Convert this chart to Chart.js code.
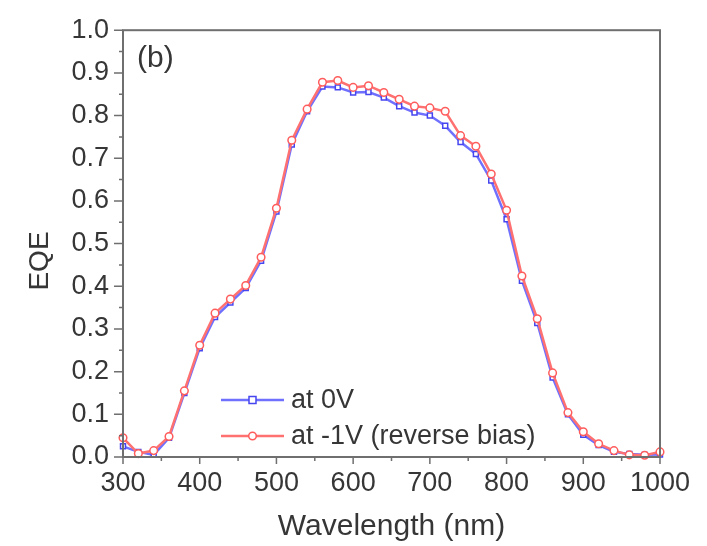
<!doctype html>
<html lang="en">
<head>
<meta charset="utf-8">
<title>EQE</title>
<style>
  * { margin: 0; padding: 0; }
  body { background: #fff; }
  #eqeChart { display: block; }
</style>
</head>
<body>
<canvas id="eqeChart" width="707" height="546"></canvas>
<script src="https://cdn.jsdelivr.net/npm/chart.js"></script>
<script>
// wavelength (nm)
const wavelengths = [300, 320, 340, 360, 380, 400, 420, 440, 460, 480, 500, 520,
  540, 560, 580, 600, 620, 640, 660, 680, 700, 720, 740, 760,
  780, 800, 820, 840, 860, 880, 900, 920, 940, 960, 980, 1000];

// EQE at 0V
const eqe0V = [0.025, 0.012, 0.005, 0.045, 0.150, 0.255, 0.328, 0.362, 0.396, 0.460, 0.575, 0.732,
  0.810, 0.868, 0.866, 0.854, 0.855, 0.842, 0.822, 0.807, 0.800, 0.776, 0.738, 0.710,
  0.648, 0.557, 0.413, 0.314, 0.186, 0.100, 0.052, 0.028, 0.012, 0.007, 0.005, 0.006];

// EQE at -1V (reverse bias)
const eqeRev = [0.045, 0.008, 0.015, 0.048, 0.155, 0.262, 0.337, 0.370, 0.402, 0.468, 0.583, 0.742,
  0.815, 0.878, 0.882, 0.866, 0.870, 0.854, 0.838, 0.822, 0.818, 0.810, 0.753, 0.728,
  0.663, 0.578, 0.424, 0.324, 0.197, 0.104, 0.059, 0.031, 0.015, 0.005, 0.004, 0.012];

const seriesNames = ['at 0V', 'at -1V (reverse bias)'];
const xTicks = [300, 400, 500, 600, 700, 800, 900, 1000];
const yTicks = [0.0, 0.1, 0.2, 0.3, 0.4, 0.5, 0.6, 0.7, 0.8, 0.9, 1.0];

const FONT = '"Liberation Sans", Arial, sans-serif';
const TEXT = '#363636';
const FRAME = '#6f6f6f';

function toPoints(ys) {
  return wavelengths.map((x, i) => ({ x: x, y: ys[i] }));
}

// frame, minor/major ticks, y title, panel label and legend
const decorations = {
  id: 'decorations',
  afterDatasetsDraw(chart) {
    const ctx = chart.ctx;
    const a = chart.chartArea;
    const xs = chart.scales.x, ys = chart.scales.y;
    ctx.save();
    ctx.strokeStyle = FRAME;
    ctx.lineWidth = 2;
    ctx.strokeRect(a.left, a.top, a.right - a.left, a.bottom - a.top);

    ctx.lineWidth = 1.5;
    ctx.beginPath();
    for (let v = 300; v <= 1000; v += 50) {
      const px = xs.getPixelForValue(v);
      const len = (v % 100 === 0) ? 7 : 4;
      ctx.moveTo(px, a.bottom);
      ctx.lineTo(px, a.bottom + len);
    }
    for (let k = 0; k <= 20; k++) {
      const py = ys.getPixelForValue(k * 0.05);
      const len = (k % 2 === 0) ? 9 : 4;
      ctx.moveTo(a.left, py);
      ctx.lineTo(a.left - len, py);
    }
    ctx.stroke();

    ctx.fillStyle = TEXT;
    ctx.textBaseline = 'middle';

    // y axis title
    ctx.save();
    ctx.translate(40, 261);
    ctx.rotate(-Math.PI / 2);
    ctx.textAlign = 'center';
    ctx.font = '28px ' + FONT;
    ctx.fillText('EQE', 0, 0);
    ctx.restore();

    // panel label
    ctx.font = '30px ' + FONT;
    ctx.textAlign = 'left';
    ctx.fillText('(b)', a.left + 14, a.top + 29);

    // legend
    const lx0 = 221, lx1 = 284, tx = 291;
    const rows = [400, 436];
    chart.data.datasets.forEach((ds, i) => {
      const y = rows[i];
      ctx.strokeStyle = ds.borderColor;
      ctx.lineWidth = ds.borderWidth;
      ctx.beginPath();
      ctx.moveTo(lx0, y);
      ctx.lineTo(lx1, y);
      ctx.stroke();
      const mx = (lx0 + lx1) / 2;
      ctx.fillStyle = '#fff';
      ctx.strokeStyle = ds.pointBorderColor;
      ctx.lineWidth = ds.pointBorderWidth;
      ctx.beginPath();
      if (ds.pointStyle === 'rect') {
        ctx.rect(mx - 3.5, y - 3.5, 7, 7);
      } else {
        ctx.arc(mx, y, 3.8, 0, Math.PI * 2);
      }
      ctx.fill();
      ctx.stroke();
      ctx.fillStyle = TEXT;
      ctx.font = '27px ' + FONT;
      ctx.textBaseline = 'middle';
      ctx.fillText(ds.label, tx, y + 1);
    });
    ctx.restore();
  }
};

new Chart(document.getElementById('eqeChart'), {
  type: 'scatter',
  data: {
    datasets: [
      {
        label: seriesNames[0],
        data: toPoints(eqe0V),
        showLine: true,
        borderColor: '#7070ff',
        borderWidth: 2.5,
        pointStyle: 'rect',
        pointRadius: 3.5,
        pointBorderColor: '#4646f0',
        pointBorderWidth: 1.5,
        pointBackgroundColor: '#ffffff',
        order: 1,
        clip: false
      },
      {
        label: seriesNames[1],
        data: toPoints(eqeRev),
        showLine: true,
        borderColor: '#ff7070',
        borderWidth: 2.5,
        pointStyle: 'circle',
        pointRadius: 3.8,
        pointBorderColor: '#ff5c5c',
        pointBorderWidth: 1.5,
        pointBackgroundColor: '#ffffff',
        order: 0,
        clip: false
      }
    ]
  },
  options: {
    responsive: false,
    animation: false,
    layout: { padding: { top: 24, right: 47, left: 0, bottom: 0 } },
    plugins: {
      legend: { display: false },
      tooltip: { enabled: false }
    },
    scales: {
      x: {
        type: 'linear',
        min: 300,
        max: 1000,
        afterFit: s => { s.height = 89; },
        afterBuildTicks: s => { s.ticks = xTicks.map(v => ({ value: v })); },
        grid: { display: false, drawTicks: false },
        border: { display: false },
        ticks: {
          color: TEXT,
          font: { family: FONT, size: 27 },
          padding: 10,
          maxRotation: 0,
          callback: v => String(v)
        },
        title: {
          display: true,
          text: 'Wavelength (nm)',
          color: TEXT,
          font: { family: FONT, size: 30 },
          padding: { top: 0, bottom: 1 }
        }
      },
      y: {
        type: 'linear',
        min: 0,
        max: 1,
        afterFit: s => { s.width = 123; },
        afterBuildTicks: s => { s.ticks = yTicks.map(v => ({ value: v })); },
        grid: { display: false, drawTicks: false },
        border: { display: false },
        ticks: {
          color: TEXT,
          font: { family: FONT, size: 27 },
          padding: 14,
          callback: v => Number(v).toFixed(1)
        },
        title: { display: false }
      }
    }
  },
  plugins: [decorations]
});
</script>
</body>
</html>
